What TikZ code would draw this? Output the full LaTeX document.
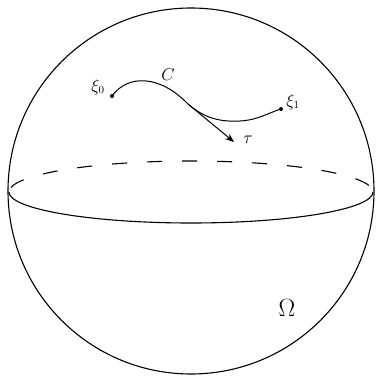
\documentclass[tikz,border=0pt]{standalone}
\usetikzlibrary{arrows.meta}
\begin{document}
\begin{tikzpicture}[x=1pt,y=1pt,
  outline/.style={line width=1.1pt,black},
  pathline/.style={line width=1pt,black},
  dotmark/.style={circle,fill=black,inner sep=0pt,minimum size=4pt},
  lbl/.style={font=\fontsize{16}{18}\selectfont,inner sep=0pt}]
\useasboundingbox (0,0) rectangle (378,376);
\coordinate (O) at (191,185);
\draw[outline] (O) circle[radius=183];
% equator
\draw[outline] (9,184) arc[start angle=180,end angle=360,x radius=182,y radius=31];
\draw[outline,dash pattern=on 15pt off 20pt,dash phase=-8pt] (373,184) arc[start angle=0,end angle=180,x radius=182,y radius=31];
% curve
\node[dotmark] (x0) at (112,280) {};
\node[dotmark] (x1) at (281,267) {};
\coordinate (t) at (188,272);
\coordinate (m) at (240,255);
\coordinate (te) at (234,234);
\draw[pathline] (x0.center) .. controls (128,302) and (160,301) .. (t)
  .. controls (205,257) and (222,254) .. (m)
  .. controls (258,256) and (268,263) .. (x1.center);
\draw[pathline,-{Stealth[length=9pt,width=7pt]}] (t) -- (te);
\node[lbl] (l0) at (98,289) {$\xi_0$};
\node[lbl] (l1) at (293,274) {$\xi_1$};
\node[lbl] (lc) at (168,301) {$C$};
\node[lbl] (lt) at (248,236) {$\tau$};
\node[inner sep=0pt,font=\fontsize{28}{32}\selectfont] (om) at (287,68) {$\Omega$};
\end{tikzpicture}
\end{document}
